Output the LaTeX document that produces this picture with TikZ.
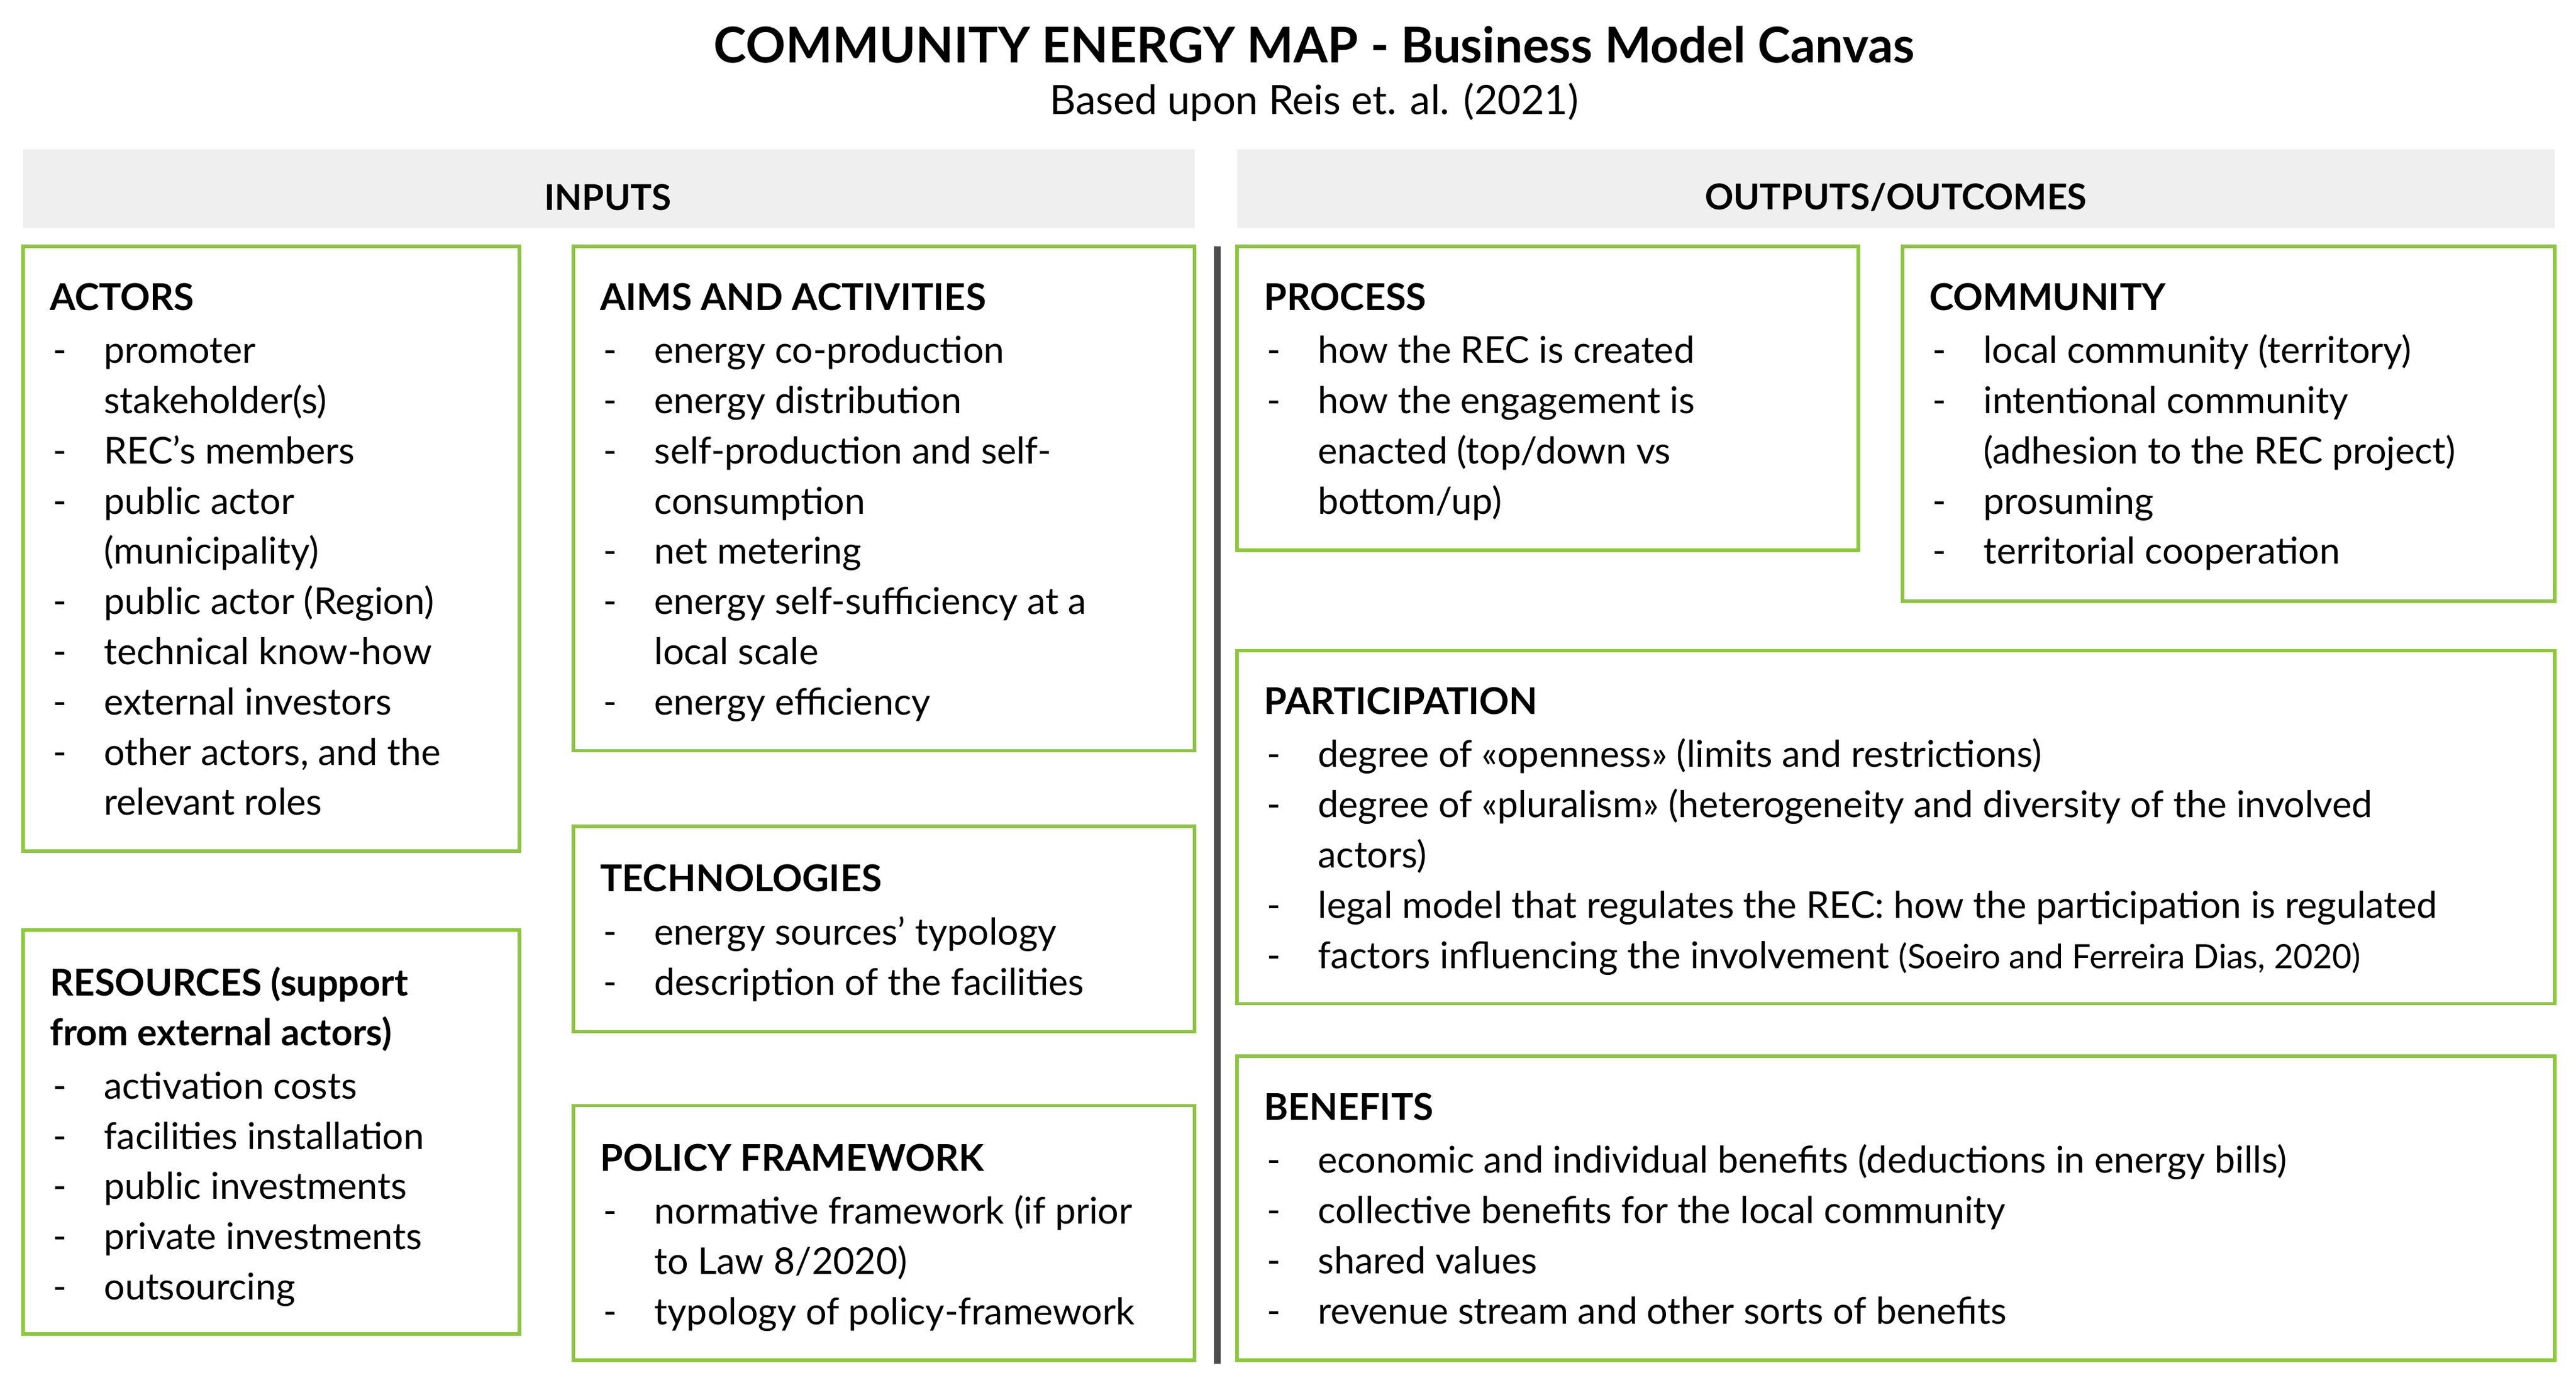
\documentclass[tikz,border=0pt]{standalone}
\usepackage{fontspec}
\setmainfont{Lato}
\definecolor{gbord}{HTML}{8CC63F}
\definecolor{barg}{HTML}{EFEFEF}
\newlength{\pxu}\setlength{\pxu}{0.02cm}
\newcommand{\itm}[1]{\makebox[33\pxu][l]{\hspace*{2\pxu}-}#1\\}
\newcommand{\ct}[1]{\hspace*{33\pxu}#1\\}
\tikzset{box/.style={draw=gbord,line width=1.2pt},
 txt/.style={anchor=north west,inner sep=0pt,align=left,font=\fontsize{12.8}{17.4}\selectfont},
 bar/.style={fill=barg,draw=none},
 bartxt/.style={font=\fontsize{12.3}{15}\selectfont\bfseries}}
\begin{document}
\begin{tikzpicture}[x=0.02cm,y=-0.02cm]
\useasboundingbox (0,0) rectangle (1568,843);
\node (title) at (800,27) {\fontsize{17.1}{20}\selectfont\bfseries COMMUNITY ENERGY MAP - Business Model Canvas};
\node (sub) at (800,62) {\fontsize{14}{16}\selectfont Based upon Reis et. al. (2021)};
\fill[bar] (14,91) rectangle (727,139);
\node[bartxt] (in) at (370,120) {INPUTS};
\fill[bar] (753,91) rectangle (1555,139);
\node[bartxt] (out) at (1154,120) {OUTPUTS/OUTCOMES};
\draw[line width=2.2pt,black!70] (741,150) -- (741,830);
\draw[box] (14,150) rectangle (316,518);
\draw[box] (14,566) rectangle (316,812);
\draw[box] (349,150) rectangle (727,457);
\draw[box] (349,503) rectangle (727,628);
\draw[box] (349,673) rectangle (727,828);
\draw[box] (753,150) rectangle (1131,335);
\draw[box] (1158,150) rectangle (1555,366);
\draw[box] (753,396) rectangle (1555,611);
\draw[box] (753,643) rectangle (1555,828);
\node[txt] (actors) at (30,172) {\textbf{ACTORS}\\[1pt]
\itm{promoter}\ct{stakeholder(s)}\itm{REC’s members}\itm{public actor}\ct{(municipality)}\itm{public actor (Region)}\itm{technical know-how}\itm{external investors}\itm{other actors, and the}\ct{relevant roles}};
\node[txt] (res) at (30,588) {\textbf{RESOURCES (support}\\\textbf{from external actors)}\\[1pt]
\itm{activation costs}\itm{facilities installation}\itm{public investments}\itm{private investments}\itm{outsourcing}};
\node[txt] (aims) at (365,172) {\textbf{AIMS AND ACTIVITIES}\\[1pt]
\itm{energy co-production}\itm{energy distribution}\itm{self-production and self-}\ct{consumption}\itm{net metering}\itm{energy self-sufficiency at a}\ct{local scale}\itm{energy efficiency}};
\node[txt] (tech) at (365,526) {\textbf{TECHNOLOGIES}\\[1pt]
\itm{energy sources’ typology}\itm{description of the facilities}};
\node[txt] (pol) at (365,696) {\textbf{POLICY FRAMEWORK}\\[1pt]
\itm{normative framework (if prior}\ct{to Law 8/2020)}\itm{typology of policy-framework}};
\node[txt] (proc) at (769,172) {\textbf{PROCESS}\\[1pt]
\itm{how the REC is created}\itm{how the engagement is}\ct{enacted (top/down vs}\ct{bottom/up)}};
\node[txt] (comm) at (1174,172) {\textbf{COMMUNITY}\\[1pt]
\itm{local community (territory)}\itm{intentional community}\ct{(adhesion to the REC project)}\itm{prosuming}\itm{territorial cooperation}};
\node[txt] (part) at (769,418) {\textbf{PARTICIPATION}\\[1pt]
\itm{degree of «openness» (limits and restrictions)}\itm{degree of «pluralism» (heterogeneity and diversity of the involved}\ct{actors)}\itm{legal model that regulates the REC: how the participation is regulated}\itm{factors influencing the involvement {\fontsize{11.6}{17.4}\selectfont(Soeiro and Ferreira Dias, 2020)}}};
\node[txt] (ben) at (769,665) {\textbf{BENEFITS}\\[1pt]
\itm{economic and individual benefits (deductions in energy bills)}\itm{collective benefits for the local community}\itm{shared values}\itm{revenue stream and other sorts of benefits}};
\end{tikzpicture}
\end{document}
